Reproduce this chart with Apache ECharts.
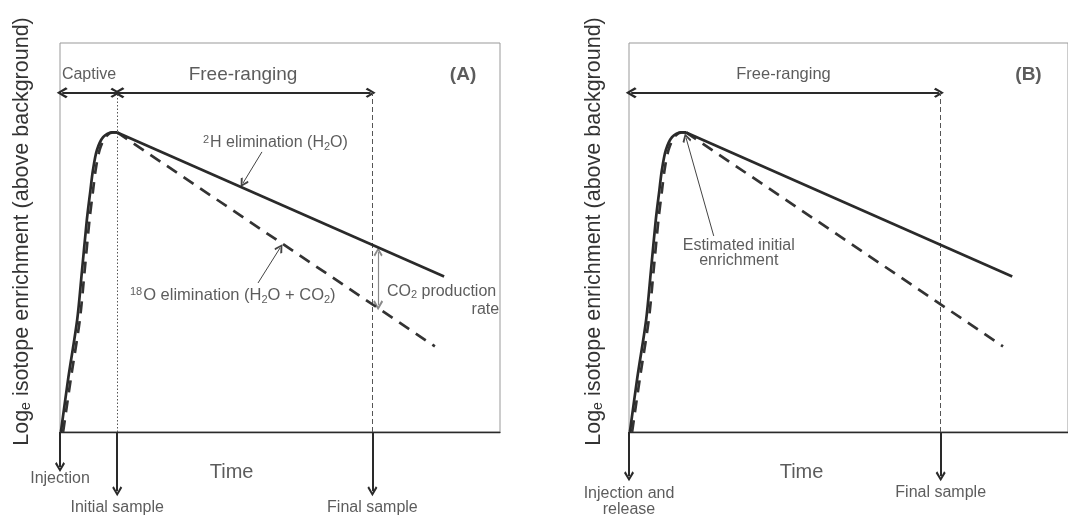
<!DOCTYPE html>
<html>
<head>
<meta charset="utf-8">
<script src="https://cdn.jsdelivr.net/npm/echarts@6/dist/echarts.min.js"></script>
<style>
html, body { margin: 0; background: #fff; }
#chart { width: 1068px; height: 518px; }
</style>
</head>
<body>
<div id="chart"></div>
<script>
// schematic: time vs loge enrichment, arbitrary units 0..100 on both axes
var riseH = [[0.2, 0], [1.9, 14], [3.9, 28.8], [5, 41.5], [6.1, 54.5], [6.9, 62], [7.5, 67.4], [8.4, 72.5], [9.8, 75.8], [11.8, 77], [13, 77]];
var riseO = [[0.7, 0], [2.5, 14], [4.5, 28.8], [5.6, 41.5], [6.7, 54.5], [7.5, 62], [8.1, 67.4], [9, 72.5], [10.3, 75.8], [12, 77], [13, 77]];
var dropH = [[13, 77], [87.3, 40]];
var dropO = [[13, 77], [85.2, 22]];
var tInitial = 13;
var tFinal = 71;
var spanY = 87.2;

// double-headed period arrows [from, to] at spanY
var spansA = [[0.5, 12.6], [13.4, 70.6]];
var spansB = [[0.5, 70.6]];
// sample arrows below the time axis [t, bottom]
var dropsA = [[0, -9], [tInitial, -15.2], [tFinal, -15.2]];
var dropsB = [[0, -11.4], [tFinal, -11.4]];
// thin pointer arrows [x1, y1, x2, y2]
var pointersA = [[45.9, 72, 41.6, 64], [45, 38.3, 50, 47.3]];
var pointersB = [[19.3, 50.4, 13, 75.6]];
var co2Gap = [72.3, 46.3, 32.6];

var ink = '#2a2a2a';
var txt = '#333';
var font = 'Liberation Sans, Arial, sans-serif';
var chevron = 'path://M5,0 L10,8 L8.4,9.6 L5,3.6 L1.6,9.6 L0,8 Z';
var rich = {
  sup: { fontSize: 11, verticalAlign: 'top', padding: [0, 1, 0, 0], color: txt, fontFamily: font },
  sub: { fontSize: 11, verticalAlign: 'bottom', color: txt, fontFamily: font }
};

var notesA = [
  { x: 6.6, y: 91.8, t: 'Captive', s: 16 },
  { x: 41.6, y: 91.8, t: 'Free-ranging', s: 19 },
  { x: 91.6, y: 91.8, t: '(A)', s: 19, w: 'bold' },
  { x: 32.5, y: 74.3, t: '{sup|2}H elimination (H{sub|2}O)', s: 16, a: 'left' },
  { x: 15.9, y: 35, t: '{sup|18}O elimination (H{sub|2}O + CO{sub|2})', s: 16.5, a: 'left' },
  { x: 74.3, y: 36, t: 'CO{sub|2} production', s: 16, a: 'left' },
  { x: 99.8, y: 31.4, t: 'rate', s: 16, a: 'right' },
  { x: 39, y: -10.5, t: 'Time', s: 20 },
  { x: 0, y: -12.1, t: 'Injection', s: 16 },
  { x: tInitial, y: -19.5, t: 'Initial sample', s: 16 },
  { x: tFinal, y: -19.5, t: 'Final sample', s: 16 }
];
var notesB = [
  { x: 35.2, y: 91.8, t: 'Free-ranging', s: 16.5 },
  { x: 91, y: 91.8, t: '(B)', s: 19, w: 'bold' },
  { x: 25, y: 45.9, t: 'Estimated initial\nenrichment', s: 16, lh: 15 },
  { x: 39.3, y: -10.5, t: 'Time', s: 20 },
  { x: 0, y: -17.9, t: 'Injection and\nrelease', s: 16, lh: 16 },
  { x: tFinal, y: -15.7, t: 'Final sample', s: 16 }
];

function notes(list, gi) {
  return {
    type: 'scatter', xAxisIndex: gi, yAxisIndex: gi, symbolSize: 1, silent: true, clip: false,
    itemStyle: { color: 'rgba(0,0,0,0)' },
    data: list.map(function (n) {
      return {
        value: [n.x, n.y],
        label: {
          show: true, position: 'inside', formatter: n.t, align: n.a || 'center', verticalAlign: 'middle',
          fontSize: n.s, fontWeight: n.w || 'normal', color: txt, fontFamily: font,
          lineHeight: n.lh || n.s + 2, rich: rich
        }
      };
    })
  };
}

function curve(pts, gi, dashed, smooth) {
  return {
    type: 'line', xAxisIndex: gi, yAxisIndex: gi, data: pts, showSymbol: false, smooth: smooth ? 0.3 : false,
    silent: true, clip: false,
    lineStyle: { color: dashed ? '#333' : ink, width: 2.7, type: dashed ? [12, 8] : 'solid' }
  };
}

function arrows(segs, gi, style, symbols, size) {
  return {
    type: 'lines', coordinateSystem: 'cartesian2d', xAxisIndex: gi, yAxisIndex: gi, silent: true, clip: false,
    symbol: symbols, symbolSize: size, lineStyle: Object.assign({ opacity: 1 }, style),
    data: segs.map(function (s) { return { coords: [[s[0], s[1]], [s[2], s[3]]] }; })
  };
}

function panel(gi, spans, drops, pointers, notesList, withCaptive) {
  var out = [
    curve(riseO, gi, true, true),
    curve(dropO, gi, true, false),
    curve(riseH, gi, false, true),
    curve(dropH, gi, false, false),
    arrows(spans.map(function (s) { return [s[0], spanY, s[1], spanY]; }), gi,
      { color: ink, width: 2 }, [chevron, chevron], [11, 10]),
    arrows(drops.map(function (d) { return [d[0], 0, d[0], d[1]]; }), gi,
      { color: ink, width: 2 }, ['none', chevron], [11, 10]),
    arrows(pointers, gi, { color: '#444', width: 1 }, ['none', chevron], [9, 9]),
    arrows([[tFinal, 0, tFinal, spanY]], gi, { color: '#555', width: 1, type: [5, 3] }, ['none', 'none'], 0),
    notes(notesList, gi)
  ];
  if (withCaptive) {
    out.push(arrows([[tInitial, 0, tInitial, spanY]], gi, { color: '#555', width: 1, type: [1.5, 2] }, ['none', 'none'], 0));
    out.push(arrows([[co2Gap[0], co2Gap[1], co2Gap[0], co2Gap[2]]], gi, { color: '#8a8a8a', width: 1.2 }, [chevron, chevron], [9, 10]));
  }
  return out;
}

function xAx(gi) {
  return {
    type: 'value', gridIndex: gi, min: 0, max: 100,
    axisLine: { show: true, onZero: false, lineStyle: { color: ink, width: 1.3 } },
    axisTick: { show: false }, axisLabel: { show: false }, splitLine: { show: false }
  };
}
function yAx(gi, gap) {
  return {
    type: 'value', gridIndex: gi, min: 0, max: 100,
    name: 'Log{e|e} isotope enrichment (above background)', nameLocation: 'middle', nameGap: gap, nameRotate: 90,
    nameTextStyle: { fontSize: 21.5, color: txt, fontFamily: font, padding: [0, 0, 0, 12],
      rich: { e: { fontSize: 14, verticalAlign: 'bottom', color: txt, fontFamily: font } } },
    axisLine: { show: false }, axisTick: { show: false }, axisLabel: { show: false }, splitLine: { show: false }
  };
}

var chart = echarts.init(document.getElementById('chart'), null, { renderer: 'canvas' });
chart.setOption({
  animation: false,
  backgroundColor: '#fff',
  grid: [
    { left: 60, top: 43, width: 440, height: 389, show: true, borderColor: '#999', borderWidth: 1 },
    { left: 629, top: 43, width: 440, height: 389, show: true, borderColor: '#999', borderWidth: 1 }
  ],
  xAxis: [xAx(0), xAx(1)],
  yAxis: [yAx(0, 27), yAx(1, 24)],
  series: panel(0, spansA, dropsA, pointersA, notesA, true)
    .concat(panel(1, spansB, dropsB, pointersB, notesB, false))
});
</script>
</body>
</html>
